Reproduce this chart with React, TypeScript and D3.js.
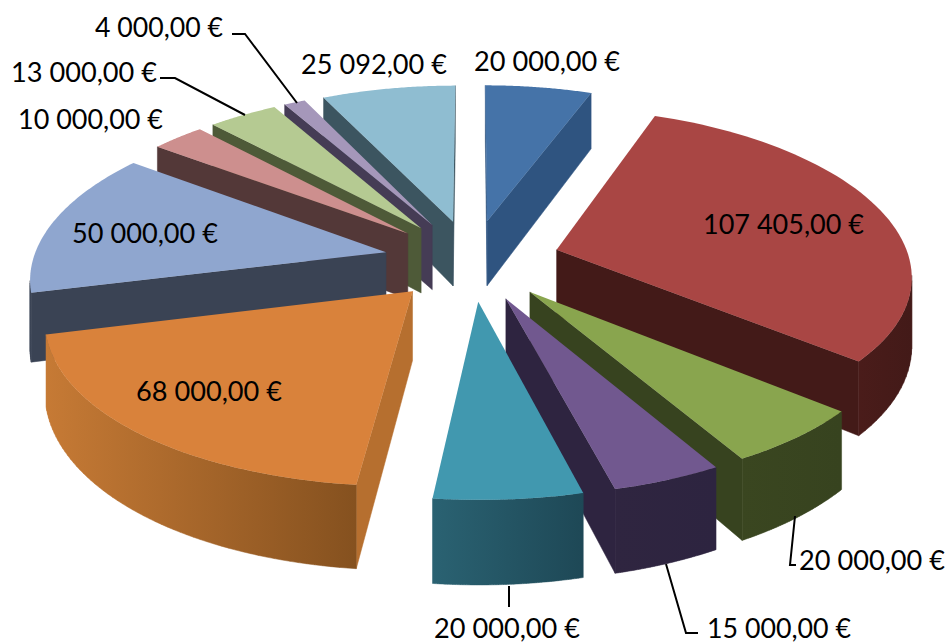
import React from "react";
import * as d3 from "d3";

const W = 948, H = 644;
const values = [20000, 107405, 20000, 15000, 20000, 68000, 50000, 10000, 13000, 4000, 25092];
const labels = ["20 000,00 €","107 405,00 €","20 000,00 €","15 000,00 €","20 000,00 €","68 000,00 €","50 000,00 €","10 000,00 €","13 000,00 €","4 000,00 €","25 092,00 €"];
const topColors = ["#4573a8","#a94644","#89a54e","#71588f","#4198af","#d9823b","#8fa6cf","#cd8f8e","#b5ca92","#a597ba","#8fbdd1"];
const cutColors = ["#2f5480","#431a18","#37431f","#2e2440","#2a2440","#b66f2f","#3a4354","#533838","#4e5a38","#453c55","#3c5560"];
const wallFrom = ["#335b8a","#4a1c1a","#3a4620","#2f2540","#2a6272","#c67a35","#3a4354","#533838","#4e5a38","#453c55","#3c5560"];
const wallTo = ["#2a4d78","#431a18","#37431f","#2d2440","#1e4856","#85511f","#3a4354","#533838","#4e5a38","#453c55","#3c5560"];
const labelX = [474,703,799,707,434,136,72,18,11,95,301];
const labelY = [71,234,570,638,638,401,243,129,82,37,74];
const labelW = [146,161,146,144,146,146,146,145,146,128,146];
const leaders: number[][][] = [[],[],[[795,516],[790,565],[796,565]],[[666,564],[686,633],[698,633]],[[509,586],[509,607]],[],[],[],[[160,78],[175,78],[245,115]],[[232,34],[245,34],[297,103]],[]];

const cx = 472, cy = 260, Rx = 353, Ry = 162, kx = 0.14, ky = 0.125, kz = 0.17, depth = 67, explode = 0.25;
type P = [number, number];
const project = (x: number, y: number, z: number): P => [
  cx + Rx * x / (1 - kx * y),
  cy + Ry * y / (1 - ky * y) + depth * z / (1 - kz * y),
];
const area = (p: P[]) => d3.polygonArea(p);
const path = d3.line<P>();

export default function App() {
  const arcs = d3.pie<number>().sort(null).startAngle(0).endAngle(2 * Math.PI)(values);
  const order = arcs.map((a, i) => ({ a, i, m: (a.startAngle + a.endAngle) / 2 }))
    .sort((p, q) => -Math.cos(p.m) - -Math.cos(q.m));
  return (
    <svg width={W} height={H} style={{ position: "absolute", left: 0, top: 0, background: "#fff" }}>
      {order.map(({ a, i, m }) => {
        const ex = explode * Math.sin(m), ey = -explode * Math.cos(m);
        const pt = (t: number, r: number, z: number) => project(ex + r * Math.sin(t), ey - r * Math.cos(t), z);
        const ts = d3.range(0, 61).map(j => a.startAngle + (a.endAngle - a.startAngle) * j / 60);
        const top = [pt(0, 0, 0), ...ts.map(t => pt(t, 1, 0))];
        const faces: P[][] = [
          [pt(a.startAngle, 0, 0), pt(a.startAngle, 1, 0), pt(a.startAngle, 1, 1), pt(a.startAngle, 0, 1)],
          [pt(a.endAngle, 1, 0), pt(a.endAngle, 0, 0), pt(a.endAngle, 0, 1), pt(a.endAngle, 1, 1)],
        ];
        const quads = d3.range(60)
          .map(j => [pt(ts[j], 1, 0), pt(ts[j + 1], 1, 0), pt(ts[j + 1], 1, 1), pt(ts[j], 1, 1)] as P[])
          .filter(q => area(q) * area(top) < 0);
        const xs = quads.flat().map(p => p[0]);
        const ext = (xs.length ? d3.extent(xs) : [0, 1]) as [number, number];
        const wallD = quads.map(q => path(q) + "Z").join("");
        const frontFaces = faces.filter(f => area(f) * area(top) < 0);
        return (
          <g key={i}>
            <defs>
              <linearGradient id={`w${i}`} gradientUnits="userSpaceOnUse" x1={ext[0]} x2={ext[1]} y1={0} y2={0}>
                <stop offset="0" stopColor={wallFrom[i]} />
                <stop offset="1" stopColor={wallTo[i]} />
              </linearGradient>
            </defs>
            {frontFaces.map((f, j) => (
              <path key={j} d={path(f) + "Z"} fill={cutColors[i]} stroke={cutColors[i]} strokeWidth={0.5} />
            ))}
            {wallD && <path d={wallD} fill={`url(#w${i})`} stroke={`url(#w${i})`} strokeWidth={0.5} />}
            <path d={path(top) + "Z"} fill={topColors[i]} />
          </g>
        );
      })}
      {leaders.map((l, i) => l.length ? (
        <path key={i} d={path(l as P[]) as string} fill="none" stroke="#000" strokeWidth={2} />
      ) : null)}
      {labels.map((t, i) => (
        <text key={i} x={labelX[i]} y={labelY[i]} fontFamily="Lato" fontSize={26} fill="#000"
          textLength={labelW[i]} lengthAdjust="spacingAndGlyphs">{t}</text>
      ))}
    </svg>
  );
}
